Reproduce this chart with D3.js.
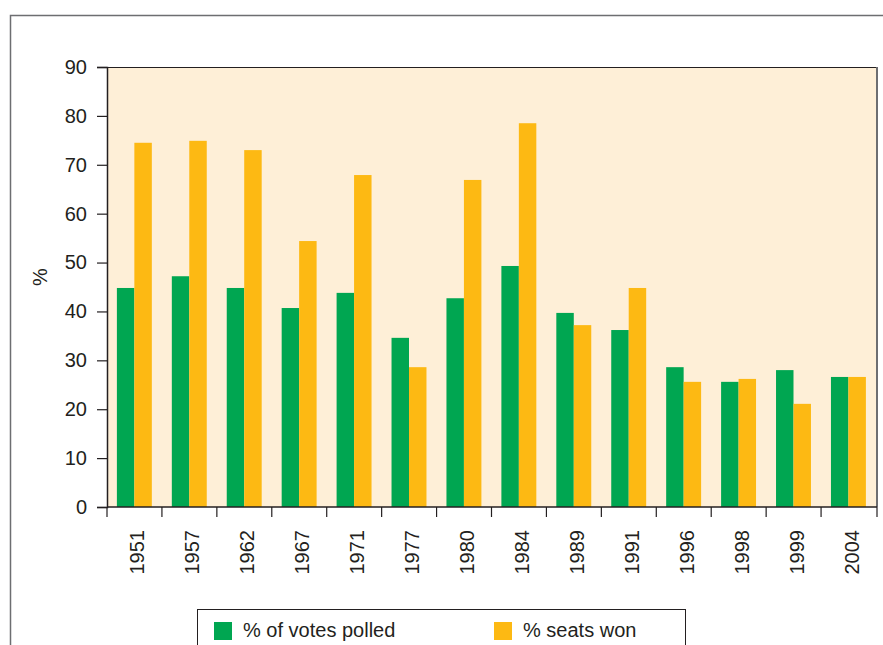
<!DOCTYPE html>
<html>
<head>
<meta charset="utf-8">
<script src="https://cdn.jsdelivr.net/npm/d3@7"></script>
<style>
  html, body { margin: 0; padding: 0; background: #ffffff; }
  svg { display: block; }
  text { font-family: "Liberation Sans", Arial, Helvetica, sans-serif; fill: #231f20; }
</style>
</head>
<body>
<svg id="chart" width="883" height="645"></svg>
<script>
// Election years and the two series (percent)
const years = ["1951", "1957", "1962", "1967", "1971", "1977", "1980", "1984", "1989", "1991", "1996", "1998", "1999", "2004"];
const votesPolled = [44.8, 47.2, 44.8, 40.7, 43.8, 34.6, 42.7, 49.3, 39.7, 36.2, 28.6, 25.6, 28.0, 26.6];
const seatsWon = [74.5, 74.9, 73.0, 54.4, 67.9, 28.6, 66.9, 78.5, 37.2, 44.8, 25.6, 26.2, 21.1, 26.6];
const yTicks = [0, 10, 20, 30, 40, 50, 60, 70, 80, 90];
const seriesNames = ["% of votes polled", "% seats won"];
const seriesColors = ["#00a651", "#fdb913"];

const svg = d3.select("#chart");
const plot = { left: 107, right: 876, top: 67, bottom: 507 };
const fontSize = "20px";

// Outer frame (top and left edges visible)
svg.append("path")
  .attr("d", "M10.5,645 V15.5 H883")
  .attr("fill", "none")
  .attr("stroke", "#6d6e71")
  .attr("stroke-width", 1.5);

const x = d3.scaleBand().domain(years).range([plot.left, plot.right]).paddingInner(0).paddingOuter(0);
const y = d3.scaleLinear().domain([0, 90]).range([plot.bottom, plot.top]);
const barW = x.bandwidth() * 0.318;
const groupOffset = x.bandwidth() * 0.18;

// Plot background
svg.append("rect")
  .attr("x", plot.left).attr("y", plot.top)
  .attr("width", plot.right - plot.left).attr("height", plot.bottom - plot.top)
  .attr("fill", "#feefd7");

// Bars
const series = [votesPolled, seatsWon];
series.forEach((vals, si) => {
  svg.append("g").selectAll("rect")
    .data(years.map((yr, i) => ({ yr, v: vals[i] })))
    .join("rect")
    .attr("x", d => x(d.yr) + groupOffset + si * barW)
    .attr("y", d => y(d.v))
    .attr("width", barW)
    .attr("height", d => y(0) - y(d.v))
    .attr("fill", seriesColors[si]);
});

// Frame lines of the plot area
svg.append("line")
  .attr("x1", plot.left).attr("x2", plot.right + 1)
  .attr("y1", plot.top + 0.5).attr("y2", plot.top + 0.5)
  .attr("stroke", "#231f20").attr("stroke-width", 1);
svg.append("line")
  .attr("x1", plot.right + 1).attr("x2", plot.right + 1)
  .attr("y1", plot.top).attr("y2", plot.bottom)
  .attr("stroke", "#6d6e71").attr("stroke-width", 2);

// Y axis
const yAxis = svg.append("g")
  .attr("transform", `translate(${plot.left},0)`)
  .call(d3.axisLeft(y).tickValues(yTicks).tickSize(10).tickPadding(10));
yAxis.select(".domain").attr("stroke", "#231f20").attr("stroke-width", 1.5);
yAxis.selectAll(".tick line").attr("stroke", "#231f20").attr("stroke-width", 1.2);
yAxis.selectAll(".tick text").style("font-size", fontSize).attr("fill", "#231f20");

// X axis with ticks at band edges
const xAxis = svg.append("g").attr("transform", `translate(0,${plot.bottom})`);
xAxis.append("line")
  .attr("x1", plot.left).attr("x2", plot.right + 1)
  .attr("y1", 0).attr("y2", 0)
  .attr("stroke", "#231f20").attr("stroke-width", 1.5);
const edges = years.map(yr => x(yr)).concat([plot.right + 1]);
xAxis.selectAll("line.tk").data(edges).join("line")
  .attr("class", "tk")
  .attr("x1", d => d).attr("x2", d => d)
  .attr("y1", 0).attr("y2", 10)
  .attr("stroke", "#231f20").attr("stroke-width", 1.2);
xAxis.selectAll("text").data(years).join("text")
  .attr("transform", d => `translate(${x(d) + x.bandwidth() / 2 + 10},23) rotate(-90)`)
  .attr("text-anchor", "end")
  .style("font-size", fontSize)
  .text(d => d);

// Y axis title
svg.append("text")
  .attr("transform", "translate(47,277) rotate(-90)")
  .attr("text-anchor", "middle")
  .style("font-size", fontSize)
  .text("%");

// Legend
const legend = svg.append("g");
legend.append("rect")
  .attr("x", 197.5).attr("y", 609.5)
  .attr("width", 488).attr("height", 60)
  .attr("fill", "none").attr("stroke", "#231f20").attr("stroke-width", 1);
const legendX = [214, 494];
seriesNames.forEach((name, i) => {
  legend.append("rect")
    .attr("x", legendX[i]).attr("y", 622)
    .attr("width", 18).attr("height", 18)
    .attr("fill", seriesColors[i]);
  legend.append("text")
    .attr("x", legendX[i] + 29).attr("y", 637)
    .style("font-size", fontSize)
    .text(name);
});
</script>
</body>
</html>
